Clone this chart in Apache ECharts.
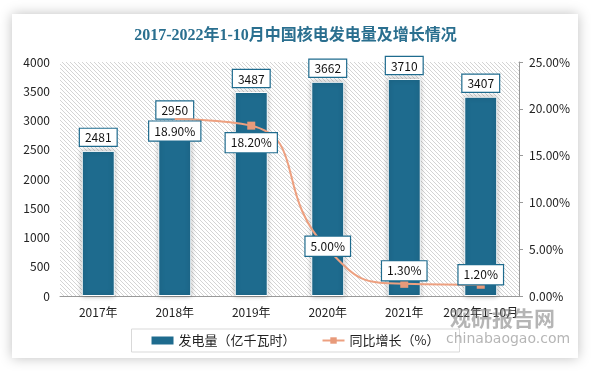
<!DOCTYPE html>
<html><head><meta charset="utf-8">
<script src="https://cdn.jsdelivr.net/npm/echarts@6/dist/echarts.min.js"></script>
<style>html,body{margin:0;padding:0;background:#fff}#c{width:591px;height:371px}</style>
</head><body><div id="c"></div>
<script>
const categories = ['2017年','2018年','2019年','2020年','2021年','2022年1-10月'];
const generation = [2481, 2950, 3487, 3662, 3710, 3407];
const growth = [null, 18.9, 18.2, 5.0, 1.3, 1.2];
const leftTicks = [0, 4000, 500];
const rightTicks = [0, 25, 5];

const pc = document.createElement('canvas');
pc.width = 4; pc.height = 4;
const g = pc.getContext('2d');
g.fillStyle = '#ffffff'; g.fillRect(0,0,4,4);
g.strokeStyle = '#d4d4d4'; g.lineWidth = 1;
g.beginPath(); g.moveTo(-1,-1); g.lineTo(5,5); g.stroke();
g.beginPath(); g.moveTo(-1,3); g.lineTo(1,5); g.stroke();
g.beginPath(); g.moveTo(3,-1); g.lineTo(5,1); g.stroke();

const labelOffsets = [null, [0, 12], [0, 17], [0, -3], [0, -13], [0, -10]];
const blue = '#1e6b8e';
const font = '"Noto Sans CJK SC", "Open Sans", sans-serif';

const chart = echarts.init(document.getElementById('c'));
chart.setOption({
  animation: false,
  backgroundColor: '#fff',
  graphic: [
    {type:'rect', z:-10, shape:{x:12,y:14,width:566,height:344}, style:{fill:'#fff', shadowBlur:12, shadowColor:'rgba(0,0,0,0.25)'}},
    {type:'text', z:100, x:450, y:308, style:{text:'观研报告网', fill:'rgba(120,120,120,0.55)', fontSize:21, fontWeight:'bold', fontFamily:'Noto Sans CJK SC'}},
    {type:'text', z:100, x:446, y:332, style:{text:'chinabaogao.com', fill:'rgba(120,120,120,0.55)', fontSize:14, fontFamily:'DejaVu Sans'}}
  ],
  title: {
    text: '2017-2022年1-10月中国核电发电量及增长情况',
    left: 'center', top: 23,
    textStyle: {color:'#2a6f8f', fontSize:16, fontWeight:'bold', fontFamily:'"Liberation Serif", "Noto Sans CJK SC", serif'}
  },
  grid: {left:60, right:72, top:62, bottom:75, show:true, borderWidth:0, backgroundColor:{image:pc, repeat:'repeat'}},
  legend: {
    bottom: 19, left: 'center', width: 327,
    padding: [5, 20, 5, 20],
    borderColor: '#d9d9d9', borderWidth: 1,
    itemGap: 26,
    textStyle: {fontSize: 13, color:'#222', fontFamily: font},
    data: [
      {name:'发电量（亿千瓦时）', icon:'rect', itemStyle:{color: blue, borderWidth:0, shadowBlur:0}},
      {name:'同比增长（%）'}
    ],
    itemWidth: 22, itemHeight: 8
  },
  xAxis: {
    type:'category', data: categories,
    axisLine:{lineStyle:{color:'#999'}}, axisTick:{show:false},
    axisLabel:{color:'#222', fontSize:12, fontFamily:font, margin:10, interval:0}
  },
  yAxis: [
    {type:'value', min:leftTicks[0], max:leftTicks[1], interval:leftTicks[2],
     splitLine:{show:false}, axisLine:{show:false}, axisTick:{show:false},
     axisLabel:{color:'#222', fontSize:12, fontFamily:font, margin:10, formatter: v => String(v)}},
    {type:'value', min:rightTicks[0], max:rightTicks[1], interval:rightTicks[2], position:'right',
     splitLine:{show:false}, axisLine:{show:true, lineStyle:{color:'#999'}},
     axisTick:{show:true, inside:false, length:4, lineStyle:{color:'#999'}},
     axisLabel:{color:'#222', fontSize:12, fontFamily:font, margin:10, formatter: v => v.toFixed(2) + '%'}}
  ],
  series: [
    {
      name:'发电量（亿千瓦时）', type:'bar', data: generation, barWidth: 33,
      itemStyle:{color: blue, borderColor:'#fff', borderWidth:1, shadowBlur:5, shadowColor:'rgba(0,0,0,0.3)'},
      label:{show:true, position:'top', distance:5, color:'#111', fontSize:12, fontFamily:font,
        backgroundColor:'#fff', borderColor: blue, borderWidth:1.2, padding:[3,5,2,5]},
      z: 2
    },
    {
      name:'同比增长（%）', type:'line', yAxisIndex:1, smooth:0.55, connectNulls:false,
      data: growth.map((v,i) => v == null ? null : (i === 1
        ? {value: v, symbolSize: 0, label: {offset: labelOffsets[i]}}
        : {value: v, label: {offset: labelOffsets[i]}})),
      symbol:'rect', symbolSize:8,
      lineStyle:{color:'#eda080', width:2},
      itemStyle:{color:'#e89a7a'},
      label:{show:true, position:'inside', color:'#111', fontSize:12, fontFamily:font,
        formatter: p => p.value.toFixed(2) + '%',
        backgroundColor:'#fff', borderColor: blue, borderWidth:1.2, padding:[4,5,3,5]},
      z: 5
    }
  ]
});
</script></body></html>
